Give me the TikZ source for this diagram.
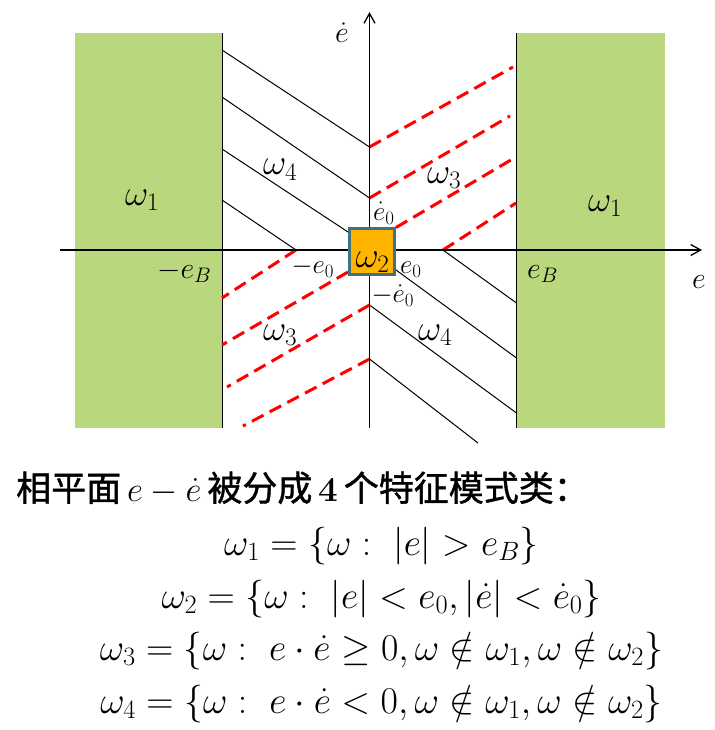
\RequirePackage{fix-cm}
\documentclass[tikz,border=0pt]{standalone}
\usepackage{fontspec}
\newfontfamily\cjk{Noto Sans CJK SC}[FakeBold=1.2]
\usetikzlibrary{arrows.meta}
\definecolor{regiongreen}{RGB}{185,215,125}
\definecolor{boxorange}{RGB}{255,181,0}
\definecolor{boxedge}{RGB}{65,113,126}
\begin{document}
\begin{tikzpicture}[x=1pt,y=-1pt,
  thinline/.style={black, line width=1pt},
  redline/.style={red, line width=3pt, dash pattern=on 13pt off 7pt},
  axisline/.style={black, line width=1.3pt, -{Straight Barb[length=10pt,width=11pt]}},
  biglbl/.style={inner sep=0pt, anchor=base west, font=\fontsize{36}{40}\selectfont},
  midlbl/.style={inner sep=0pt, anchor=base west, font=\fontsize{30}{34}\selectfont},
  smalllbl/.style={inner sep=0pt, anchor=base west, font=\fontsize{27}{30}\selectfont},
  formula/.style={inner sep=0pt, anchor=base, font=\fontsize{37.8}{42}\selectfont},
  greenzone/.style={fill=regiongreen, draw=none}
]
\useasboundingbox (0,0) rectangle (714,730);

% green regions
\fill[greenzone] (75,33.5) rectangle (222,428);
\fill[greenzone] (516.5,33.5) rectangle (665,428);

% vertical boundary lines
\coordinate (lbt) at (222,33.5); \coordinate (lbb) at (222,428);
\coordinate (rbt) at (516.5,33.5); \coordinate (rbb) at (516.5,428);
\draw[thinline] (lbt) -- (lbb);
\draw[thinline] (rbt) -- (rbb);

% key points on axes
\coordinate (va1) at (369.5,147);
\coordinate (va2) at (369.5,198);
\coordinate (va3) at (369.5,305);
\coordinate (va4) at (369.5,359);
\coordinate (ha1) at (296,250);
\coordinate (ha2) at (443,250);
\coordinate (bxtl) at (348,232);
\coordinate (bxtr) at (396,227.5);
\coordinate (bxbl) at (348,272);
\coordinate (bxbr) at (396,270);

% black lines, upper-left
\coordinate (l1) at (222,50);
\coordinate (l2) at (222,97);
\coordinate (l3) at (222,149);
\coordinate (l4) at (222,200);
\draw[thinline] (l1) -- (va1);
\draw[thinline] (l2) -- (va2);
\draw[thinline] (l3) -- (bxtl);
\draw[thinline] (l4) -- (ha1);

% black lines, lower-right
\coordinate (r1) at (516.5,358);
\coordinate (r2) at (516.5,303);
\coordinate (r3) at (516.5,413);
\coordinate (r4) at (478,443);
\draw[thinline] (bxbr) -- (r1);
\draw[thinline] (ha2) -- (r2);
\draw[thinline] (va3) -- (r3);
\draw[thinline] (va4) -- (r4);

% red dashed lines, upper-right
\coordinate (u1) at (513,67);
\coordinate (u2) at (510,116);
\coordinate (u3) at (516,157);
\coordinate (u4) at (516,203);
\draw[redline] (va1) -- (u1);
\draw[redline] (va2) -- (u2);
\draw[redline] (bxtr) -- (u3);
\draw[redline] (ha2) -- (u4);

% red dashed lines, lower-left
\coordinate (d1) at (222,298);
\coordinate (d2) at (222,345);
\coordinate (d3) at (227,387);
\coordinate (d4) at (243,426);
\draw[redline] (ha1) -- (d1);
\draw[redline] (bxbl) -- (d2);
\draw[redline] (va3) -- (d3);
\draw[redline] (va4) -- (d4);

% axes
\coordinate (hs) at (60,250); \coordinate (he) at (702,250);
\coordinate (vs) at (369.5,428); \coordinate (ve) at (369.5,12);
\draw[axisline] (hs) -- (he);
\draw[axisline] (vs) -- (ve);

% central box
\node[draw=boxedge, fill=boxorange, line width=3pt, inner sep=0pt,
      minimum width=45pt, minimum height=45.4pt] (w2box) at (371.7,251.5) {};
\node[inner sep=0pt, anchor=base, font=\fontsize{36}{40}\selectfont] (w2lbl) at (372.5,267) {$\omega_2$};

% labels
\node[midlbl] (edot) at (335,43) {$\dot{e}$};
\node[midlbl] (eaxis) at (692,288) {$e$};
\node[biglbl] (w1l) at (125,205) {$\omega_1$};
\node[biglbl] (w1r) at (588,211) {$\omega_1$};
\node[midlbl] (meb) at (157,278) {$-e_B$};
\node[midlbl] (peb) at (527,278) {$e_B$};
\node[biglbl] (w4u) at (263,175) {$\omega_4$};
\node[biglbl] (w3u) at (427,183) {$\omega_3$};
\node[biglbl] (w3l) at (263,340) {$\omega_3$};
\node[biglbl] (w4l) at (418,340) {$\omega_4$};
\node[smalllbl] (ed0) at (373,220) {$\dot{e}_0$};
\node[smalllbl] (me0) at (291.5,273) {$-e_0$};
\node[smalllbl] (pe0) at (400,273) {$e_0$};
\node[smalllbl] (med0) at (371.5,302) {$-\dot{e}_0$};

% bottom text
\node[inner sep=0pt, anchor=base west, font=\fontsize{35}{40}\selectfont] (title) at (16,501)
  {{\cjk 相平面}\,$e-\dot{e}$\,{\cjk 被分成}\,{\bfseries 4}\,{\cjk 个特征模式类：}};
\node[formula] (f1) at (381.5,555) {$\omega_1=\{\omega:\ |e|>e_B\}$};
\node[formula] (f2) at (381.5,608) {$\omega_2=\{\omega:\ |e|<e_0,|\dot{e}|<\dot{e}_0\}$};
\node[formula] (f3) at (381.5,660) {$\omega_3=\{\omega:\ e\cdot\dot{e}\geq 0,\omega\notin\omega_1,\omega\notin\omega_2\}$};
\node[formula] (f4) at (381.5,713) {$\omega_4=\{\omega:\ e\cdot\dot{e}<0,\omega\notin\omega_1,\omega\notin\omega_2\}$};
\end{tikzpicture}
\end{document}
